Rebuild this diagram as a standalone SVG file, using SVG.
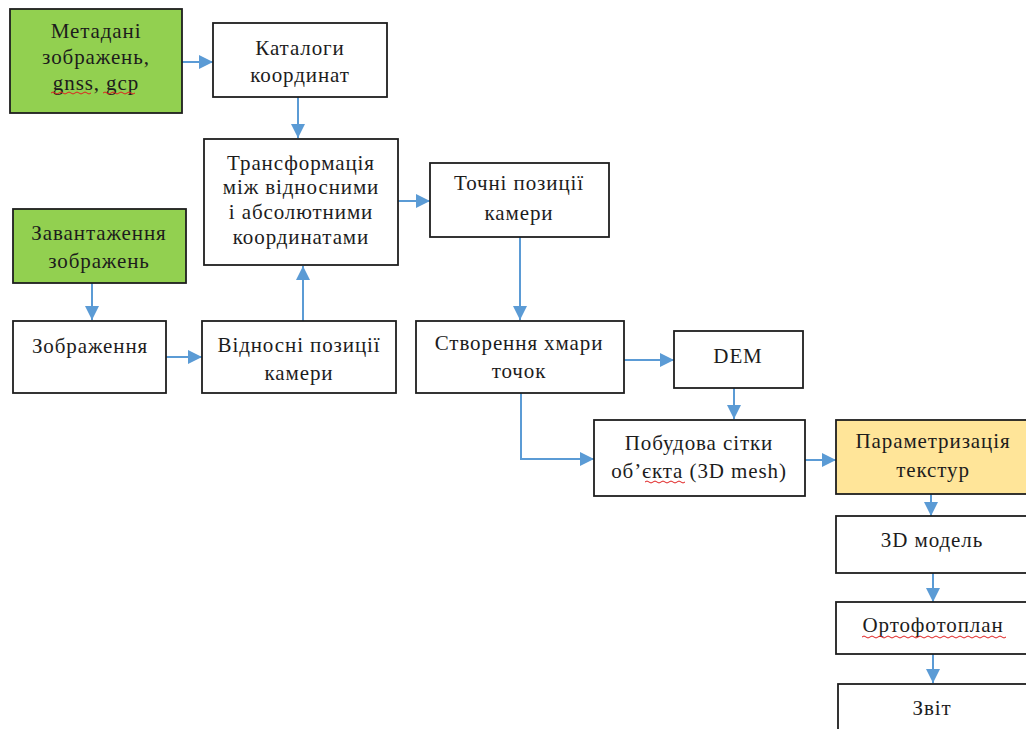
<svg xmlns="http://www.w3.org/2000/svg" width="1026" height="729" viewBox="0 0 1026 729">
<style>
.box{fill:#fff;stroke:#1e1e1e;stroke-width:1.8}
.green{fill:#92d050}
.yellow{fill:#ffe599}
text{font-family:'Liberation Serif','DejaVu Serif',serif;font-size:21px;letter-spacing:0.9px;fill:#1c1c1c;text-anchor:middle}
.c{fill:none;stroke:#5b9bd5;stroke-width:2}
.sp{fill:none;stroke:#e02020;stroke-width:1}
</style>
<defs>
<marker id="ah" viewBox="0 0 10 10" refX="10" refY="5" markerWidth="7" markerHeight="7" markerUnits="strokeWidth" orient="auto">
<path d="M0,0 L10,5 L0,10 z" fill="#5b9bd5"/>
</marker>
</defs>
<rect width="1026" height="729" fill="#fff"/>
<g id="connectors">
<path class="c" marker-end="url(#ah)" d="M182,62 H213"/>
<path class="c" marker-end="url(#ah)" d="M298,97 V138"/>
<path class="c" marker-end="url(#ah)" d="M398,201 H430"/>
<path class="c" marker-end="url(#ah)" d="M520,237 V320"/>
<path class="c" marker-end="url(#ah)" d="M92,283 V320"/>
<path class="c" marker-end="url(#ah)" d="M166,357 H202"/>
<path class="c" marker-end="url(#ah)" d="M303,321 V266"/>
<path class="c" marker-end="url(#ah)" d="M624,360 H674"/>
<path class="c" marker-end="url(#ah)" d="M734,388 V419"/>
<path class="c" marker-end="url(#ah)" d="M521,393 V459 H594"/>
<path class="c" marker-end="url(#ah)" d="M805,460 H836"/>
<path class="c" marker-end="url(#ah)" d="M931,494 V516"/>
<path class="c" marker-end="url(#ah)" d="M933,573 V602"/>
<path class="c" marker-end="url(#ah)" d="M933,654 V683"/>
</g>
<g id="n-metadata">
<rect class="box green" x="10" y="9" width="172" height="104"/>
<text x="96" y="38">Метадані</text>
<text x="96" y="64">зображень,</text>
<text x="96" y="90">gnss, gcp</text>
<path class="sp" d="M51,93 q2,-2 4,0 t4,0 t4,0 t4,0 t4,0 t4,0 t4,0 t4,0 t4,0 t4,0 M103,93 q2,-2 4,0 t4,0 t4,0 t4,0 t4,0 t4,0 t4,0 t4,0"/>
</g>
<g id="n-catalogs">
<rect class="box" x="213" y="23" width="174" height="74"/>
<text x="300" y="55">Каталоги</text>
<text x="300" y="82">координат</text>
</g>
<g id="n-transform">
<rect class="box" x="204" y="139" width="194" height="126"/>
<text x="301" y="170">Трансформація</text>
<text x="301" y="194">між відносними</text>
<text x="301" y="219">і абсолютними</text>
<text x="301" y="244">координатами</text>
</g>
<g id="n-exact">
<rect class="box" x="430" y="163" width="179" height="74"/>
<text x="519" y="190">Точні позиції</text>
<text x="519" y="220">камери</text>
</g>
<g id="n-load">
<rect class="box green" x="13" y="209" width="173" height="74"/>
<text x="99" y="240">Завантаження</text>
<text x="99" y="268">зображень</text>
</g>
<g id="n-images">
<rect class="box" x="13" y="321" width="153" height="72"/>
<text x="90" y="353">Зображення</text>
</g>
<g id="n-relative">
<rect class="box" x="202" y="321" width="194" height="72"/>
<text x="299" y="352">Відносні позиції</text>
<text x="299" y="380">камери</text>
</g>
<g id="n-cloud">
<rect class="box" x="416" y="321" width="208" height="72"/>
<text x="519" y="350">Створення хмари</text>
<text x="519" y="378">точок</text>
</g>
<g id="n-dem">
<rect class="box" x="674" y="331" width="129" height="57"/>
<text x="738" y="363">DEM</text>
</g>
<g id="n-mesh">
<rect class="box" x="594" y="420" width="211" height="76"/>
<text x="699" y="450">Побудова сітки</text>
<text x="699" y="478">об’єкта (3D mesh)</text>
<path class="sp" d="M645,482 q2,-2 4,0 t4,0 t4,0 t4,0 t4,0 t4,0 t4,0 t4,0 t4,0 t4,0"/>
</g>
<g id="n-texture">
<rect class="box yellow" x="836" y="420" width="194" height="74"/>
<text x="933" y="448">Параметризація</text>
<text x="933" y="477">текстур</text>
</g>
<g id="n-model">
<rect class="box" x="836" y="516" width="194" height="57"/>
<text x="932" y="547">3D модель</text>
</g>
<g id="n-ortho">
<rect class="box" x="836" y="602" width="194" height="52"/>
<text x="933" y="632">Ортофотоплан</text>
<path class="sp" d="M862,637 q2,-2 4,0 t4,0 t4,0 t4,0 t4,0 t4,0 t4,0 t4,0 t4,0 t4,0 t4,0 t4,0 t4,0 t4,0 t4,0 t4,0 t4,0 t4,0 t4,0 t4,0 t4,0 t4,0 t4,0 t4,0 t4,0 t4,0 t4,0 t4,0 t4,0 t4,0 t4,0 t4,0 t4,0 t4,0 t4,0 t4,0"/>
</g>
<g id="n-report">
<rect class="box" x="838" y="684" width="194" height="60"/>
<text x="932" y="715">Звіт</text>
</g>
</svg>
